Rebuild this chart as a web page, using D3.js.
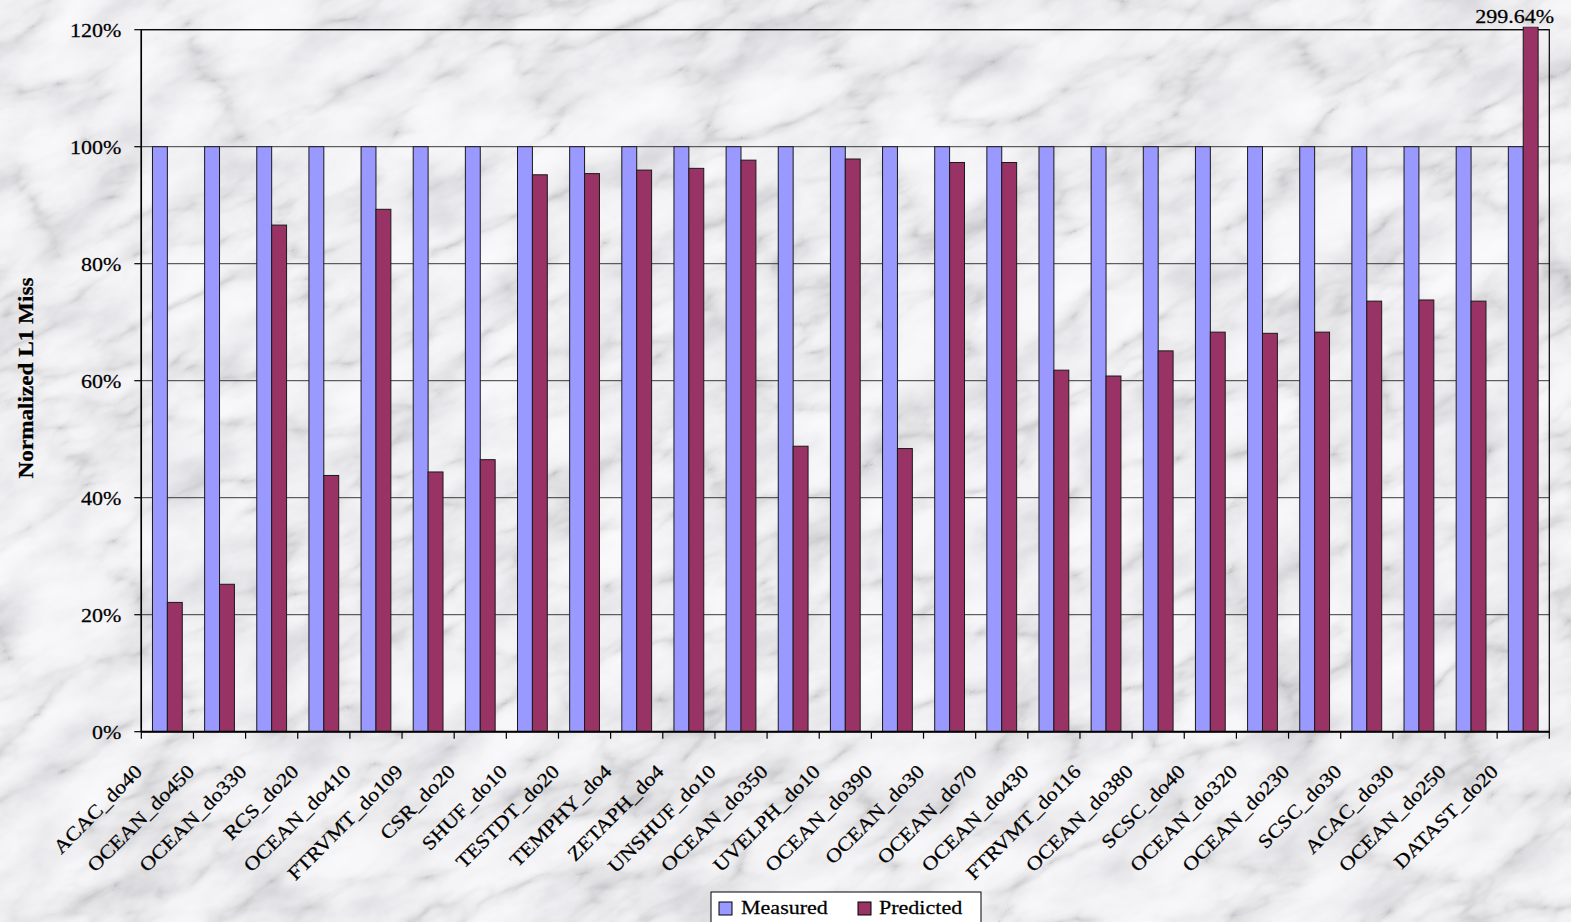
<!DOCTYPE html>
<html>
<head>
<meta charset="utf-8">
<script src="https://cdn.jsdelivr.net/npm/d3@7"></script>
<style>
  html, body { margin: 0; padding: 0; background: #d8d8dc; }
  svg { display: block; }
  text { font-family: "Liberation Serif", "Times New Roman", serif; fill: #000; }
</style>
</head>
<body>
<svg id="chart" width="1571" height="922"></svg>
<script>
// Benchmarks (x categories)
const categories = [
  "ACAC_do40", "OCEAN_do450", "OCEAN_do330", "RCS_do20", "OCEAN_do410",
  "FTRVMT_do109", "CSR_do20", "SHUF_do10", "TESTDT_do20", "TEMPHY_do4",
  "ZETAPH_do4", "UNSHUF_do10", "OCEAN_do350", "UVELPH_do10", "OCEAN_do390",
  "OCEAN_do30", "OCEAN_do70", "OCEAN_do430", "FTRVMT_do116", "OCEAN_do380",
  "SCSC_do40", "OCEAN_do320", "OCEAN_do230", "SCSC_do30", "ACAC_do30",
  "OCEAN_do250", "DATAST_do20"
];
// Normalized L1 miss, percent
const measured = [
  100, 100, 100, 100, 100, 100, 100, 100, 100, 100,
  100, 100, 100, 100, 100, 100, 100, 100, 100, 100,
  100, 100, 100, 100, 100, 100, 100
];
const predicted = [
  22.1, 25.2, 86.6, 43.8, 89.3, 44.4, 46.5, 95.2, 95.4, 96.0,
  96.3, 97.7, 48.8, 97.9, 48.4, 97.3, 97.3, 61.8, 60.8, 65.1,
  68.3, 68.1, 68.3, 73.6, 73.8, 73.6, 299.64
];
const seriesNames = ["Measured", "Predicted"];
const seriesColors = ["#9999FF", "#993366"];
const yTicks = [0, 20, 40, 60, 80, 100, 120];

const W = 1571, H = 922;
const plot = { left: 141.3, right: 1549.3, top: 29.7, bottom: 731.7 };
const FS = 19.5;      // label font size
const WIDEN = 1.13;   // wide face: stretch glyphs along the baseline

const svg = d3.select("#chart");
const defs = svg.append("defs");

// Marble backdrop: mottled grey clouds plus thin veins
const f = defs.append("filter").attr("id", "marble")
  .attr("x", 0).attr("y", 0).attr("width", "100%").attr("height", "100%")
  .attr("filterUnits", "objectBoundingBox");
f.append("feTurbulence").attr("type", "fractalNoise")
  .attr("baseFrequency", "0.011 0.02").attr("numOctaves", 5).attr("seed", 11).attr("result", "cloud");
f.append("feColorMatrix").attr("in", "cloud").attr("type", "matrix")
  .attr("values", "1 0 0 0 0  1 0 0 0 0  1 0 0 0 0  0 0 0 0 1").attr("result", "cloudG");
const ct1 = f.append("feComponentTransfer").attr("in", "cloudG").attr("result", "cloudT");
[["feFuncR", "0.66 0.76 0.86 0.92 0.95 0.96"],
 ["feFuncG", "0.66 0.76 0.86 0.92 0.95 0.96"],
 ["feFuncB", "0.70 0.79 0.885 0.94 0.965 0.975"]].forEach(([fn, tv]) =>
  ct1.append(fn).attr("type", "table").attr("tableValues", tv));
f.append("feTurbulence").attr("type", "turbulence")
  .attr("baseFrequency", "0.007 0.016").attr("numOctaves", 4).attr("seed", 29).attr("result", "vein");
f.append("feColorMatrix").attr("in", "vein").attr("type", "matrix")
  .attr("values", "1 0 0 0 0  1 0 0 0 0  1 0 0 0 0  0 0 0 0 1").attr("result", "veinG");
const ct2 = f.append("feComponentTransfer").attr("in", "veinG").attr("result", "veinT");
["feFuncR", "feFuncG", "feFuncB"].forEach(fn =>
  ct2.append(fn).attr("type", "table").attr("tableValues", "0.68 0.88 0.97 1 1 1 1 1"));
f.append("feBlend").attr("in", "cloudT").attr("in2", "veinT").attr("mode", "multiply");

svg.append("g").attr("transform", `rotate(-25 ${W / 2} ${H / 2})`)
  .append("rect")
  .attr("x", -600).attr("y", -700).attr("width", W + 1200).attr("height", H + 1400)
  .attr("filter", "url(#marble)");

// Helper for wide-set text
function label(sel, x, y, rot, txt, opts = {}) {
  const t = sel.append("text")
    .attr("transform", `translate(${x},${y})` + (rot ? ` rotate(${rot})` : "") + ` scale(${opts.widen || WIDEN},1)`)
    .attr("text-anchor", opts.anchor || "start")
    .attr("font-size", opts.size || FS)
    .attr("stroke", "#000").attr("stroke-width", 0.25)
    .text(txt);
  if (opts.bold) t.attr("font-weight", "bold");
  return t;
}

// Scales
const x0 = d3.scaleBand().domain(categories)
  .range([plot.left, plot.right]).paddingInner(1.5 / 3.5).paddingOuter(0.75 / 3.5);
const x1 = d3.scaleBand().domain(seriesNames).range([0, x0.bandwidth()]);
const y = d3.scaleLinear().domain([0, 120]).range([plot.bottom, plot.top]);

// Gridlines
svg.append("g").selectAll("line").data(yTicks.filter(t => t > 0)).join("line")
  .attr("x1", plot.left).attr("x2", plot.right)
  .attr("y1", d => y(d)).attr("y2", d => y(d))
  .attr("stroke", "#3a3a3a").attr("stroke-width", 1);

// Plot frame
svg.append("rect")
  .attr("x", plot.left).attr("y", plot.top)
  .attr("width", plot.right - plot.left).attr("height", plot.bottom - plot.top)
  .attr("fill", "none").attr("stroke", "#000").attr("stroke-width", 1.2);

// Clip for the off-scale bar
defs.append("clipPath").attr("id", "plotClip").append("rect")
  .attr("x", plot.left).attr("y", plot.top - 3)
  .attr("width", plot.right - plot.left).attr("height", plot.bottom - plot.top + 3);

const rows = categories.map((c, i) => ({ cat: c, values: [measured[i], predicted[i]] }));

const groups = svg.append("g").attr("clip-path", "url(#plotClip)")
  .selectAll("g").data(rows).join("g")
  .attr("transform", d => `translate(${x0(d.cat)},0)`);
groups.selectAll("rect")
  .data(d => d.values.map((v, k) => ({ key: seriesNames[k], v, k })))
  .join("rect")
  .attr("x", d => x1(d.key))
  .attr("y", d => y(Math.min(d.v, 120.5)))
  .attr("width", x1.bandwidth())
  .attr("height", d => y(0) - y(Math.min(d.v, 120.5)))
  .attr("fill", d => seriesColors[d.k])
  .attr("stroke", "#1a1a1a").attr("stroke-width", 1);

// Value label for the off-scale bar
const last = rows[rows.length - 1];
label(svg, x0(last.cat) + x1("Predicted") + x1.bandwidth() / 2 - 16, 23, 0,
  last.values[1].toFixed(2) + "%", { anchor: "middle" });

// Y axis
const gy = svg.append("g");
gy.append("line")
  .attr("x1", plot.left).attr("x2", plot.left)
  .attr("y1", plot.top).attr("y2", plot.bottom)
  .attr("stroke", "#000").attr("stroke-width", 1.5);
gy.selectAll("line.tick").data(yTicks).join("line").attr("class", "tick")
  .attr("x1", plot.left - 7).attr("x2", plot.left)
  .attr("y1", d => y(d)).attr("y2", d => y(d))
  .attr("stroke", "#000").attr("stroke-width", 1.2);
yTicks.forEach(t => label(gy, plot.left - 20, y(t) + 7.5, 0, t + "%", { anchor: "end" }));

// X axis: boundary ticks and slanted labels
const step = x0.step();
const boundaries = d3.range(categories.length + 1).map(i => plot.left + i * step);
const gx = svg.append("g");
gx.append("line")
  .attr("x1", plot.left).attr("x2", plot.right)
  .attr("y1", y(0)).attr("y2", y(0))
  .attr("stroke", "#000").attr("stroke-width", 2);
gx.selectAll("line.tick").data(boundaries).join("line").attr("class", "tick")
  .attr("x1", d => d).attr("x2", d => d)
  .attr("y1", y(0)).attr("y2", y(0) + 7)
  .attr("stroke", "#000").attr("stroke-width", 1.2);
categories.forEach(c =>
  label(gx, x0(c) + x0.bandwidth() / 2 - 24, y(0) + 41, -45, c, { anchor: "end" }));

// Y axis title
label(svg, 33, 378, -90, "Normalized L1 Miss", { anchor: "middle", size: 20, bold: true, widen: 1.16 });

// Legend
const lg = svg.append("g").attr("transform", "translate(711,892)");
lg.append("rect").attr("width", 270).attr("height", 40)
  .attr("fill", "#ffffff").attr("stroke", "#000").attr("stroke-width", 1);
const items = [{ x: 8, tx: 30 }, { x: 147, tx: 168 }];
seriesNames.forEach((name, k) => {
  lg.append("rect").attr("x", items[k].x).attr("y", 10)
    .attr("width", 13).attr("height", 13)
    .attr("fill", seriesColors[k]).attr("stroke", "#000").attr("stroke-width", 1);
  label(lg, items[k].tx, 22, 0, name);
});
</script>
</body>
</html>
